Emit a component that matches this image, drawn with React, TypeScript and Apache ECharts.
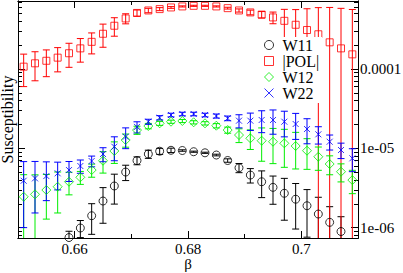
import React, { useEffect, useRef } from 'react';
import * as echarts from 'echarts';

// beta values (x)
const BETA = [
  0.651, 0.653, 0.655, 0.657, 0.659, 0.661, 0.663, 0.665, 0.667, 0.669,
  0.671, 0.673, 0.675, 0.677, 0.679, 0.681, 0.683, 0.685, 0.687, 0.689,
  0.691, 0.693, 0.695, 0.697, 0.699, 0.701, 0.703, 0.705, 0.707, 0.709,
];

const W11: (number | null)[] = [
  null, null, null, null, 7.5e-7, 9.89e-7, 1.413e-6, 2.165e-6, 3.35e-6, 5.02e-6,
  7.0e-6, 8.47e-6, 9.19e-6, 9.44e-6, 9.38e-6, 9.06e-6, 8.78e-6, 8.23e-6, 7.02e-6, 5.68e-6,
  4.6e-6, 3.79e-6, 3.22e-6, 2.71e-6, 2.28e-6, 1.888e-6, 1.484e-6, 1.166e-6, 8.93e-7, null,
];
const W11_ERR = [
  0, 0, 0, 0, 1.5e-7, 2.4e-7, 5.9e-7, 1.03e-6, 1.37e-6, 1.1e-6,
  0.8e-6, 1.0e-6, 0.8e-6, 0.6e-6, 0.2e-6, 0.15e-6, 0.15e-6, 0.2e-6, 0.35e-6, 0.75e-6,
  0.95e-6, 1.4e-6, 1.25e-6, 1.47e-6, 1.32e-6, 1.13e-6, 0.93e-6, 0.67e-6, 0.48e-6, 0,
];

const POL = [
  1.07e-4, 1.18e-4, 1.27e-4, 1.39e-4, 1.58e-4, 1.82e-4, 2.2e-4, 2.78e-4, 3.51e-4, 4.34e-4,
  5.09e-4, 5.47e-4, 5.69e-4, 5.97e-4, 6.15e-4, 6.26e-4, 6.26e-4, 6.15e-4, 5.85e-4, 5.47e-4,
  5.17e-4, 4.85e-4, 4.47e-4, 4.05e-4, 3.61e-4, 3.1e-4, 2.74e-4, 2.17e-4, 1.82e-4, 1.53e-4,
];
const POL_ERR = [
  0.47e-4, 0.47e-4, 0.47e-4, 0.47e-4, 0.53e-4, 0.6e-4, 0.65e-4, 0.9e-4, 0.92e-4, 0.63e-4,
  0.45e-4, 0.35e-4, 0.25e-4, 0.15e-4, 0.1e-4, 0.1e-4, 0.1e-4, 0.1e-4, 0.15e-4, 0.25e-4,
  0.35e-4, 0.45e-4, 0.75e-4, 1.6e-4, 2.0e-4, 2.65e-4, 3.2e-4, 3.8e-4, 4.0e-4, 4.1e-4,
];

const W12 = [
  2.45e-6, 2.63e-6, 2.98e-6, 3.28e-6, 3.79e-6, 4.31e-6, 5.32e-6, 6.97e-6, 9.25e-6, 1.273e-5,
  1.7e-5, 1.91e-5, 2.066e-5, 2.165e-5, 2.21e-5, 2.128e-5, 2.066e-5, 1.928e-5, 1.7e-5, 1.471e-5,
  1.337e-5, 1.247e-5, 1.211e-5, 1.156e-5, 1.069e-5, 9.33e-6, 7.83e-6, 6.34e-6, 5.07e-6, 3.98e-6,
];
const W12_ERR = [
  2.2e-6, 2.0e-6, 1.7e-6, 1.75e-6, 1.2e-6, 0.8e-6, 1.0e-6, 2.1e-6, 2.8e-6, 2.4e-6,
  2.0e-6, 1.5e-6, 1.2e-6, 1.0e-6, 1.0e-6, 1.0e-6, 1.0e-6, 1.2e-6, 1.5e-6, 2.9e-6,
  3.7e-6, 5.6e-6, 5.7e-6, 5.8e-6, 5.2e-6, 3.9e-6, 2.55e-6, 1.7e-6, 1.3e-6, 1.3e-6,
];

const W22 = [
  3.9e-6, 4.18e-6, 4.47e-6, 4.84e-6, 5.32e-6, 5.98e-6, 6.91e-6, 8.47e-6, 1.047e-5, 1.4e-5,
  1.86e-5, 2.165e-5, 2.43e-5, 2.63e-5, 2.71e-5, 2.71e-5, 2.63e-5, 2.555e-5, 2.39e-5, 2.23e-5,
  2.23e-5, 2.275e-5, 2.275e-5, 2.165e-5, 2.025e-5, 1.751e-5, 1.501e-5, 1.211e-5, 9.52e-6, 7.48e-6,
];
const W22_ERR = [
  2.9e-6, 2.65e-6, 2.28e-6, 1.85e-6, 1.5e-6, 1.14e-6, 1.07e-6, 1.7e-6, 3.5e-6, 4.1e-6,
  3.0e-6, 1.6e-6, 1.5e-6, 1.4e-6, 1.4e-6, 1.4e-6, 1.4e-6, 1.5e-6, 1.6e-6, 4.2e-6,
  5.5e-6, 7.0e-6, 7.7e-6, 7.7e-6, 7.3e-6, 6.1e-6, 3.7e-6, 2.6e-6, 2.1e-6, 2.4e-6,
];

// axes
const X_MIN = 0.65;
const X_MAX = 0.71;
const X_MAJOR = [0.66, 0.68, 0.7];
const X_MINOR = [0.67, 0.69];
const Y_MIN = 7.4e-7;
const Y_MAX = 7.2e-4;
const Y_MAJOR = [1e-6, 1e-5, 1e-4];
const Y_MAJOR_LABELS = ['1e-06', '1e-05', '0.0001'];
const Y_MINOR = [
  8e-7, 9e-7,
  2e-6, 3e-6, 4e-6, 5e-6, 6e-6, 7e-6, 8e-6, 9e-6,
  2e-5, 3e-5, 4e-5, 5e-5, 6e-5, 7e-5, 8e-5, 9e-5,
  2e-4, 3e-4, 4e-4, 5e-4, 6e-4, 7e-4,
];

const FONT = '"Liberation Serif", "DejaVu Serif", serif';
const CROSS = 'path://M0,0L10,10M10,0L0,10';

const SETS = [
  { name: 'W11', vals: W11, errs: W11_ERR, color: '#000000', symbol: 'circle', size: 8 },
  { name: '|POL|', vals: POL, errs: POL_ERR, color: '#ff0000', symbol: 'rect', size: 7 },
  { name: 'W12', vals: W12, errs: W12_ERR, color: '#00ee00', symbol: 'diamond', size: 9 },
  { name: 'W22', vals: W22, errs: W22_ERR, color: '#0000ff', symbol: CROSS, size: 6 },
];

function errorSeries(set: any) {
  const data: number[][] = [];
  BETA.forEach((b, i) => {
    const v = set.vals[i];
    if (v != null) data.push([b, v, set.errs[i]]);
  });
  const color = set.color;
  return {
    type: 'custom',
    name: set.name + ' err',
    xAxisIndex: 0,
    yAxisIndex: 0,
    silent: true,
    data,
    renderItem: (params: any, api: any) => {
      const x = api.value(0);
      const v = api.value(1);
      const e = api.value(2);
      const cs = params.coordSys;
      const top = cs.y;
      const bottom = cs.y + cs.height;
      const px = api.coord([x, v])[0];
      let yHi = api.coord([x, v + e])[1];
      const lo = v - e;
      let yLo = lo > 0 ? api.coord([x, lo])[1] : Infinity;
      if (!isFinite(yLo) || isNaN(yLo)) yLo = Infinity;
      const capHi = yHi >= top;
      const capLo = yLo <= bottom;
      yHi = Math.max(yHi, top);
      yLo = Math.min(yLo, bottom);
      if (yHi > bottom || yLo < top) return null;
      const style = { stroke: color, lineWidth: 1, fill: 'none' };
      const children: any[] = [
        { type: 'line', shape: { x1: px, y1: yHi, x2: px, y2: yLo }, style },
      ];
      if (capHi) children.push({ type: 'line', shape: { x1: px - 3.5, y1: yHi, x2: px + 3.5, y2: yHi }, style });
      if (capLo) children.push({ type: 'line', shape: { x1: px - 3.5, y1: yLo, x2: px + 3.5, y2: yLo }, style });
      return { type: 'group', children };
    },
  };
}

function pointSeries(set: any) {
  const data: number[][] = [];
  BETA.forEach((b, i) => {
    const v = set.vals[i];
    if (v != null) data.push([b, v]);
  });
  return {
    type: 'scatter',
    name: set.name,
    xAxisIndex: 0,
    yAxisIndex: 0,
    data,
    symbol: set.symbol,
    symbolSize: set.size,
    itemStyle: { color: 'none', borderColor: set.color, borderWidth: 1 },
    silent: true,
  };
}

const lineStyle = { color: '#000', width: 1 };

function xAxis(position: string, major: boolean, main: boolean) {
  return {
    type: 'value',
    min: X_MIN,
    max: X_MAX,
    position,
    axisLine: { show: true, onZero: false, lineStyle },
    splitLine: { show: false },
    axisTick: { show: true, inside: true, length: major ? 7 : 4, customValues: major ? X_MAJOR : X_MINOR, lineStyle },
    axisLabel: main
      ? {
          show: true,
          customValues: X_MAJOR,
          formatter: (v: number) => String(+v.toFixed(2)),
          fontFamily: FONT,
          fontSize: 15,
          color: '#000',
          margin: 3,
        }
      : { show: false },
    name: main ? 'β' : '',
    nameLocation: 'middle',
    nameGap: 18,
    nameMoveOverlap: false,
    nameTextStyle: { fontFamily: FONT, fontSize: 15, color: '#000' },
  };
}

function yAxis(position: string, major: boolean, main: boolean, titled: boolean) {
  return {
    type: 'log',
    logBase: 10,
    min: Y_MIN,
    max: Y_MAX,
    position,
    axisLine: { show: true, onZero: false, lineStyle },
    splitLine: { show: false },
    minorTick: { show: false },
    axisTick: { show: true, inside: true, length: major ? 7 : 4, customValues: major ? Y_MAJOR : Y_MINOR, lineStyle },
    axisLabel: main
      ? {
          show: true,
          customValues: Y_MAJOR,
          formatter: (v: number) => {
            let best = 0;
            Y_MAJOR.forEach((m, i) => {
              if (Math.abs(Math.log10(m) - Math.log10(v)) < Math.abs(Math.log10(Y_MAJOR[best]) - Math.log10(v))) best = i;
            });
            return Y_MAJOR_LABELS[best];
          },
          fontFamily: FONT,
          fontSize: 15,
          color: '#000',
          margin: 2,
        }
      : { show: false },
    name: titled ? 'Susceptibility' : '',
    nameLocation: 'middle',
    nameRotate: 90,
    nameGap: 3,
    nameMoveOverlap: false,
    nameTextStyle: { fontFamily: FONT, fontSize: 16, color: '#000' },
  };
}

const option: any = {
  animation: false,
  backgroundColor: '#fff',
  grid: { left: 18, right: 45, top: 1, bottom: 35, containLabel: false, outerBoundsMode: 'none' },
  xAxis: [
    xAxis('bottom', true, true),
    xAxis('top', true, false),
    xAxis('bottom', false, false),
    xAxis('top', false, false),
  ],
  yAxis: [
    yAxis('right', true, true, false),
    yAxis('left', true, false, true),
    yAxis('right', false, false, false),
    yAxis('left', false, false, false),
  ],
  legend: {
    orient: 'vertical',
    left: 262,
    top: 37,
    itemWidth: 9,
    itemHeight: 9,
    itemGap: 0,
    padding: [0, 3, 2, 0],
    backgroundColor: '#fff',
    selectedMode: false,
    textStyle: { fontFamily: FONT, fontSize: 16, color: '#000', lineHeight: 14.5, padding: [0, 0, 0, 4] },
    data: SETS.map((s) => ({
      name: s.name,
      icon: s.symbol,
      itemStyle: { color: 'none', borderColor: s.color, borderWidth: 1 },
    })),
  },
  series: SETS.flatMap((s) => [errorSeries(s), pointSeries(s)]),
};

export default function App() {
  const ref = useRef<HTMLDivElement>(null);
  useEffect(() => {
    const chart = echarts.init(ref.current!, null, { renderer: 'svg' });
    chart.setOption(option);
    return () => chart.dispose();
  }, []);
  return (
    <div
      ref={ref}
      style={{ position: 'fixed', left: 0, top: 0, width: 403, height: 273, background: '#fff' }}
    />
  );
}
